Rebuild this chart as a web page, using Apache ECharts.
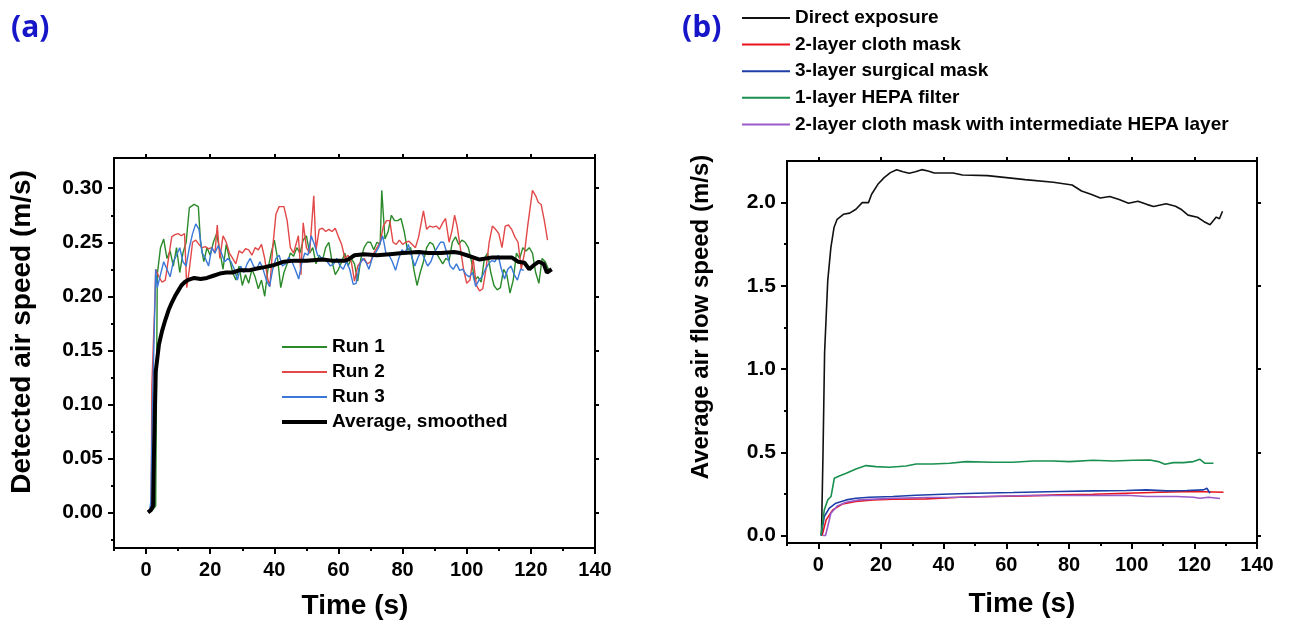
<!DOCTYPE html>
<html>
<head>
<meta charset="utf-8">
<script src="https://cdn.jsdelivr.net/npm/echarts@6/dist/echarts.min.js"></script>
<style>
html,body{margin:0;padding:0;background:#fff;}
#chart{width:1290px;height:620px;}
</style>
</head>
<body>
<div id="chart"></div>
<script>
// ---------- Panel (a): detected air speed, three runs + smoothed average ----------
const runNamesA = ['Run 1', 'Run 2', 'Run 3'];
const avgNameA = 'Average, smoothed';
const run1 = [[1,0],[2,0.002],[3,0.006],[3.5,0.22],[4.5,0.245],[5.5,0.253],[6.5,0.235],[7.5,0.242],[8.5,0.228],[9.5,0.245],[10.5,0.222],[11.5,0.24],[12.5,0.25],[13.5,0.282],[15,0.285],[16.3,0.283],[17,0.25],[18,0.232],[19,0.245],[20,0.238],[21,0.25],[22,0.258],[23,0.242],[24,0.225],[25,0.248],[26,0.235],[27,0.222],[28,0.215],[29,0.228],[30,0.21],[31,0.22],[32,0.212],[33,0.225],[34,0.218],[35,0.207],[36,0.215],[37,0.2],[38,0.225],[39,0.24],[40,0.252],[41,0.235],[42,0.208],[43,0.222],[44,0.23],[45,0.24],[46,0.237],[47,0.245],[48,0.24],[49,0.252],[50,0.256],[51,0.24],[52,0.245],[53,0.23],[54,0.238],[55,0.233],[56,0.245],[57,0.25],[58,0.232],[59,0.22],[60,0.225],[61,0.232],[62,0.24],[63,0.228],[64,0.235],[65,0.23],[66,0.214],[67,0.235],[68,0.245],[69,0.25],[70,0.25],[71,0.243],[72,0.25],[73,0.248],[73.5,0.298],[74.5,0.253],[75.5,0.26],[76.5,0.275],[77.5,0.27],[78.5,0.27],[79.5,0.272],[80.5,0.26],[81.5,0.243],[82.5,0.245],[83.5,0.225],[84.5,0.21],[85.5,0.222],[86.5,0.232],[87.5,0.245],[88.5,0.25],[89.5,0.248],[90.5,0.24],[91.5,0.235],[92.5,0.23],[93.5,0.235],[94.5,0.233],[95.5,0.25],[96.5,0.255],[97.5,0.248],[98.5,0.252],[99.5,0.25],[100.5,0.245],[101.5,0.232],[102.5,0.215],[103.5,0.218],[104.5,0.213],[105.5,0.235],[106.5,0.24],[107.5,0.222],[108.5,0.21],[109.5,0.206],[110.5,0.208],[111.5,0.225],[112.5,0.22],[113.5,0.203],[114.5,0.215],[115.5,0.24],[116.5,0.235],[117.5,0.245],[118.5,0.242],[119.5,0.245],[120.5,0.24],[121.5,0.222],[122.5,0.212],[123.5,0.235],[124.5,0.232],[125.5,0.225]];
const run2 = [[1,0],[1.6,0.005],[1.8,0.117],[2.4,0.118],[2.8,0.2],[3,0.225],[4,0.218],[5,0.213],[6,0.215],[7,0.235],[8,0.255],[9,0.257],[10,0.258],[11,0.256],[12,0.258],[12.7,0.208],[13.5,0.225],[14.5,0.25],[15.5,0.252],[16.5,0.248],[17.5,0.245],[18.5,0.246],[19.5,0.244],[20.5,0.245],[21.5,0.24],[22.2,0.266],[23,0.235],[24,0.256],[25,0.25],[26,0.24],[27,0.235],[28,0.23],[29,0.242],[30,0.24],[31,0.244],[32,0.243],[33,0.238],[34,0.245],[35,0.243],[36,0.248],[37,0.235],[37.8,0.218],[38.6,0.209],[39.5,0.245],[40.5,0.276],[41.5,0.283],[43,0.283],[44,0.27],[45,0.245],[46,0.24],[47.5,0.256],[48.3,0.22],[49,0.268],[50,0.245],[51,0.24],[52.3,0.293],[53,0.243],[54,0.262],[55,0.263],[56,0.26],[57,0.262],[58,0.26],[59,0.263],[60,0.255],[61,0.248],[62,0.235],[63,0.238],[64,0.232],[65,0.214],[66,0.228],[67,0.232],[68,0.235],[69,0.23],[70,0.232],[71,0.24],[72,0.245],[73,0.25],[74,0.265],[75,0.27],[76,0.27],[77,0.25],[78,0.248],[79,0.252],[80,0.248],[81,0.25],[82,0.251],[83,0.248],[84,0.245],[85,0.255],[86.5,0.279],[87.5,0.262],[88.5,0.265],[89.5,0.264],[90.5,0.265],[91.5,0.262],[92.5,0.268],[93.4,0.272],[94.5,0.25],[95.5,0.262],[96.2,0.275],[97,0.265],[98,0.245],[99,0.225],[100,0.212],[101,0.215],[102,0.235],[103,0.21],[104,0.205],[105,0.207],[106,0.225],[107,0.25],[108,0.265],[109,0.262],[110,0.258],[111,0.245],[112,0.265],[113,0.266],[114,0.262],[115,0.255],[116,0.25],[117,0.225],[118,0.24],[119,0.265],[120.5,0.298],[121.5,0.293],[122.3,0.287],[123.2,0.285],[124.2,0.27],[125.2,0.252]];
const run3 = [[1,0],[1.5,0.01],[2,0.1],[2.5,0.16],[3,0.225],[3.5,0.208],[4.5,0.22],[5.5,0.232],[6.5,0.225],[7.5,0.218],[8.5,0.232],[9.5,0.238],[10.5,0.245],[11.5,0.232],[12.5,0.228],[13.5,0.245],[14.5,0.258],[15.5,0.267],[16.5,0.262],[17.5,0.24],[18.5,0.235],[19.5,0.228],[20.5,0.245],[21.5,0.24],[22.5,0.247],[23.5,0.24],[24.5,0.232],[25.5,0.235],[26.5,0.232],[27.5,0.225],[28.5,0.215],[29.5,0.228],[30.5,0.222],[31.5,0.23],[32.5,0.235],[33.5,0.228],[34.5,0.225],[35.5,0.232],[36.5,0.225],[37.5,0.215],[38.5,0.209],[39.5,0.225],[40.5,0.235],[41.5,0.238],[42.5,0.228],[43.5,0.23],[44.5,0.236],[45.5,0.232],[46.5,0.225],[47.6,0.216],[48.5,0.23],[49.5,0.24],[50.5,0.238],[51.5,0.256],[52.5,0.248],[53.5,0.238],[54.5,0.236],[55.5,0.235],[56.5,0.232],[57.5,0.228],[58.5,0.23],[59.5,0.235],[60.5,0.228],[61.5,0.225],[62.5,0.232],[63.5,0.225],[64.6,0.211],[65.5,0.212],[66.5,0.228],[67.5,0.235],[68.5,0.232],[69.5,0.225],[70.5,0.235],[71.5,0.24],[72.5,0.245],[73.8,0.256],[74.8,0.24],[75.8,0.238],[76.8,0.232],[77.8,0.224],[78.8,0.235],[79.8,0.243],[80.8,0.24],[81.8,0.248],[82.8,0.237],[83.8,0.228],[84.8,0.236],[85.8,0.242],[86.8,0.235],[87.8,0.228],[88.8,0.232],[89.8,0.24],[90.8,0.245],[91.8,0.25],[92.8,0.25],[93.8,0.24],[94.8,0.228],[95.8,0.225],[96.8,0.23],[97.8,0.224],[98.8,0.225],[99.8,0.22],[100.8,0.218],[101.8,0.222],[102.8,0.209],[103.8,0.215],[104.8,0.218],[105.8,0.225],[106.8,0.23],[107.8,0.233],[108.8,0.232],[109.8,0.238],[110.8,0.225],[111.8,0.216],[112.8,0.225],[113.8,0.228],[114.8,0.22],[115.8,0.215],[116.8,0.225],[117.8,0.224]];
const avgA = [[0.6,0],[1.5,0.002],[2.2,0.006],[2.5,0.06],[3,0.13],[4,0.155],[5,0.168],[6,0.178],[7,0.187],[8,0.194],[9,0.2],[10,0.205],[11,0.21],[12,0.213],[13,0.215],[15,0.217],[17,0.216],[19,0.217],[21,0.219],[23,0.221],[25,0.222],[27,0.222],[29,0.224],[32,0.224],[35,0.226],[37,0.227],[40,0.229],[43,0.232],[46,0.233],[50,0.233],[55,0.234],[58,0.233],[62,0.233],[63,0.234],[65,0.238],[68,0.239],[72,0.238],[76,0.239],[80,0.24],[85,0.241],[88,0.24],[92,0.24],[96,0.241],[98,0.24],[100,0.238],[102,0.236],[104,0.234],[108,0.236],[112,0.236],[114,0.236],[116,0.232],[118,0.231],[119.5,0.225],[121,0.229],[122.5,0.232],[124,0.23],[125,0.222],[126.5,0.225]];
const xTicksMajor = [0, 20, 40, 60, 80, 100, 120, 140];
const xTicksMinor = [-10, 10, 30, 50, 70, 90, 110, 130];
const yTicksA = [0, 0.05, 0.10, 0.15, 0.20, 0.25, 0.30];
const yMinorA = [-0.025, 0.025, 0.075, 0.125, 0.175, 0.225, 0.275];

// ---------- Panel (b): average air flow speed behind each barrier ----------
const namesB = ['Direct exposure', '2-layer cloth mask', '3-layer surgical mask', '1-layer HEPA filter', '2-layer cloth mask with intermediate HEPA layer'];
const direct = [[1,0],[1.5,0.5],[2,1.1],[3,1.53],[4,1.73],[5,1.85],[6,1.9],[7,1.915],[8,1.93],[10,1.937],[12,1.96],[14,2.0],[16,2.0],[17,2.05],[19,2.11],[21,2.15],[23,2.18],[25,2.198],[27,2.185],[29,2.176],[31,2.185],[33,2.198],[35,2.19],[37,2.178],[43,2.178],[46,2.166],[54,2.162],[60,2.15],[66,2.138],[75,2.122],[81,2.106],[84,2.07],[87,2.05],[90,2.028],[93,2.037],[96,2.018],[99,1.996],[102,2.008],[105,1.988],[107,1.977],[111,1.993],[114,1.978],[116,1.957],[118,1.925],[121,1.912],[123,1.887],[125,1.867],[127,1.913],[128,1.903],[129,1.948]];
const cloth2 = [[1.2,0],[2.5,0.094],[4.6,0.154],[7.8,0.19],[12,0.204],[17.4,0.214],[23.8,0.218],[34.5,0.22],[45.1,0.23],[55.7,0.234],[66.4,0.238],[77,0.244],[87.7,0.248],[98.3,0.254],[109,0.26],[119.7,0.264],[129.3,0.26]];
const surgical3 = [[0.9,0],[1.9,0.114],[3.5,0.164],[5.6,0.194],[8.9,0.214],[12,0.224],[16.3,0.23],[23.8,0.234],[31.2,0.242],[39.7,0.248],[50.4,0.254],[62.1,0.258],[77,0.264],[87.7,0.268],[98.3,0.27],[104.7,0.274],[111.2,0.268],[117.6,0.27],[122.9,0.274],[124,0.284],[125,0.254]];
const hepa1 = [[0.85,0],[1.9,0.154],[3,0.214],[4.05,0.234],[5.1,0.344],[6.7,0.358],[8.9,0.374],[12,0.4],[15.2,0.42],[18.4,0.414],[22.7,0.41],[28,0.418],[31.2,0.43],[36.5,0.43],[41.9,0.434],[47.2,0.444],[55.7,0.44],[62.1,0.44],[68.5,0.448],[74.9,0.448],[80.2,0.444],[87.7,0.452],[94.1,0.448],[100.5,0.452],[105.8,0.454],[108.5,0.444],[110.6,0.428],[113.3,0.438],[116.5,0.438],[119.7,0.444],[121.8,0.458],[123.4,0.434],[126.1,0.434]];
const clothHepa = [[1.5,0],[2.3,0],[3,0.054],[4,0.134],[6.1,0.178],[8.9,0.2],[13.1,0.214],[23.8,0.224],[34.5,0.228],[45.1,0.23],[66.4,0.24],[87.7,0.24],[98.3,0.242],[104.7,0.234],[114.3,0.234],[119.7,0.23],[121.8,0.224],[124.5,0.23],[128.2,0.222]];
const yTicksB = [0, 0.5, 1.0, 1.5, 2.0];
const yMinorB = [0.25, 0.75, 1.25, 1.75];

const FONT = 'Liberation Sans, Arial, sans-serif';
const chart = echarts.init(document.getElementById('chart'), null, {renderer: 'canvas'});

const RANGE_A = [-0.033, 0.328];
const RANGE_B = [-0.045, 2.25];

function mkX(grid, vals, len, labels, pos, showLine) {
  return {
    type: 'value', gridIndex: grid, min: -10, max: 140, position: pos,
    axisLine: {show: showLine, onZero: false, lineStyle: {color: '#000', width: 2}},
    axisTick: {show: true, customValues: vals, length: len, inside: false, lineStyle: {color: '#000', width: 2}},
    axisLabel: labels ? {show: true, customValues: vals, margin: 12, color: '#000', fontFamily: FONT, fontWeight: 'bold', fontSize: 20} : {show: false},
    splitLine: {show: false}
  };
}
function mkY(grid, range, vals, len, labels, pos, showLine, dec) {
  return {
    type: 'value', gridIndex: grid, min: range[0], max: range[1], position: pos,
    axisLine: {show: showLine, onZero: false, lineStyle: {color: '#000', width: 2}},
    axisTick: {show: true, customValues: vals, length: len, inside: false, lineStyle: {color: '#000', width: 2}},
    axisLabel: labels ? {show: true, customValues: vals, margin: 11, color: '#000', fontFamily: FONT, fontWeight: 'bold', fontSize: 21,
      formatter: v => v.toFixed(dec)} : {show: false},
    splitLine: {show: false}
  };
}

// grids 0/1: main panels; grids 2/3: overlays at the same place carrying the minor ticks
const gridA = {left: 114, top: 158, width: 481, height: 390, show: false};
const gridB = {left: 787, top: 161, width: 470, height: 382, show: false};

const xAxes = [
  mkX(0, xTicksMajor, 6, true, 'bottom', true),   // 0
  mkX(0, xTicksMajor, 4, false, 'top', true),     // 1
  mkX(1, xTicksMajor, 6, true, 'bottom', true),   // 2
  mkX(1, xTicksMajor, 4, false, 'top', true),     // 3
  mkX(2, xTicksMinor, 3, false, 'bottom', false), // 4
  mkX(3, xTicksMinor, 3, false, 'bottom', false)  // 5
];
const yAxes = [
  mkY(0, RANGE_A, yTicksA, 6, true, 'left', true, 2),    // 0
  mkY(0, RANGE_A, yTicksA, 4, false, 'right', true, 2),  // 1
  mkY(1, RANGE_B, yTicksB, 6, true, 'left', true, 1),    // 2
  mkY(1, RANGE_B, yTicksB, 4, false, 'right', true, 1),  // 3
  mkY(2, RANGE_A, yMinorA, 3, false, 'left', false, 2),  // 4
  mkY(3, RANGE_B, yMinorB, 3, false, 'left', false, 1)   // 5
];

function line(name, data, color, width, xi, yi) {
  return {type: 'line', name: name, data: data, xAxisIndex: xi, yAxisIndex: yi,
    symbol: 'none', showSymbol: false, smooth: false,
    lineStyle: {color: color, width: width}, itemStyle: {color: color}, z: 3};
}

const colA = ['#2a8a2a', '#e24848', '#3a78d8', '#000000'];
const colB = ['#111111', '#e8141c', '#1c3fa8', '#1a9050', '#9a5ac8'];

const series = [
  line(runNamesA[0], run1, colA[0], 1.4, 0, 0),
  line(runNamesA[1], run2, colA[1], 1.4, 0, 0),
  line(runNamesA[2], run3, colA[2], 1.4, 0, 0),
  line(avgNameA, avgA, colA[3], 4, 0, 0),
  line(namesB[0], direct, colB[0], 1.6, 2, 2),
  line(namesB[1], cloth2, colB[1], 1.6, 2, 2),
  line(namesB[2], surgical3, colB[2], 1.6, 2, 2),
  line(namesB[3], hepa1, colB[3], 1.6, 2, 2),
  line(namesB[4], clothHepa, colB[4], 1.6, 2, 2)
];
series[3].z = 4;

const legendText = {color: '#000', fontFamily: FONT, fontWeight: 'bold', fontSize: 19, lineHeight: 20};

chart.setOption({
  animation: false,
  backgroundColor: '#fff',
  grid: [gridA, gridB, Object.assign({}, gridA), Object.assign({}, gridB)],
  xAxis: xAxes,
  yAxis: yAxes,
  legend: [
    {data: runNamesA, orient: 'vertical', left: 277, top: 332, itemWidth: 45, itemHeight: 2, itemGap: 5,
      icon: 'rect', textStyle: legendText, selectedMode: false},
    {data: [avgNameA], orient: 'vertical', left: 277, top: 407, itemWidth: 45, itemHeight: 4, itemGap: 5,
      icon: 'rect', textStyle: legendText, selectedMode: false},
    {data: namesB, orient: 'vertical', left: 737, top: 3, itemWidth: 48, itemHeight: 2, itemGap: 6.6,
      icon: 'rect', textStyle: legendText, selectedMode: false}
  ],
  graphic: [
    {type: 'text', left: 11, top: 13, style: {text: '(a)', fill: '#1616c8', font: 'bold 30px "Open Sans", sans-serif'}},
    {type: 'text', left: 682, top: 13, style: {text: '(b)', fill: '#1616c8', font: 'bold 30px "Open Sans", sans-serif'}},
    {type: 'text', x: 22, y: 332, rotation: Math.PI / 2,
      style: {text: 'Detected air speed (m/s)', fill: '#000', font: 'bold 28px ' + FONT, align: 'center', verticalAlign: 'middle'}},
    {type: 'text', x: 701, y: 317, rotation: Math.PI / 2,
      style: {text: 'Average air flow speed (m/s)', fill: '#000', font: 'bold 24px ' + FONT, align: 'center', verticalAlign: 'middle'}},
    {type: 'text', x: 355, y: 606, style: {text: 'Time (s)', fill: '#000', font: 'bold 28px ' + FONT, align: 'center', verticalAlign: 'middle'}},
    {type: 'text', x: 1022, y: 604, style: {text: 'Time (s)', fill: '#000', font: 'bold 28px ' + FONT, align: 'center', verticalAlign: 'middle'}}
  ],
  series: series
});
</script>
</body>
</html>
